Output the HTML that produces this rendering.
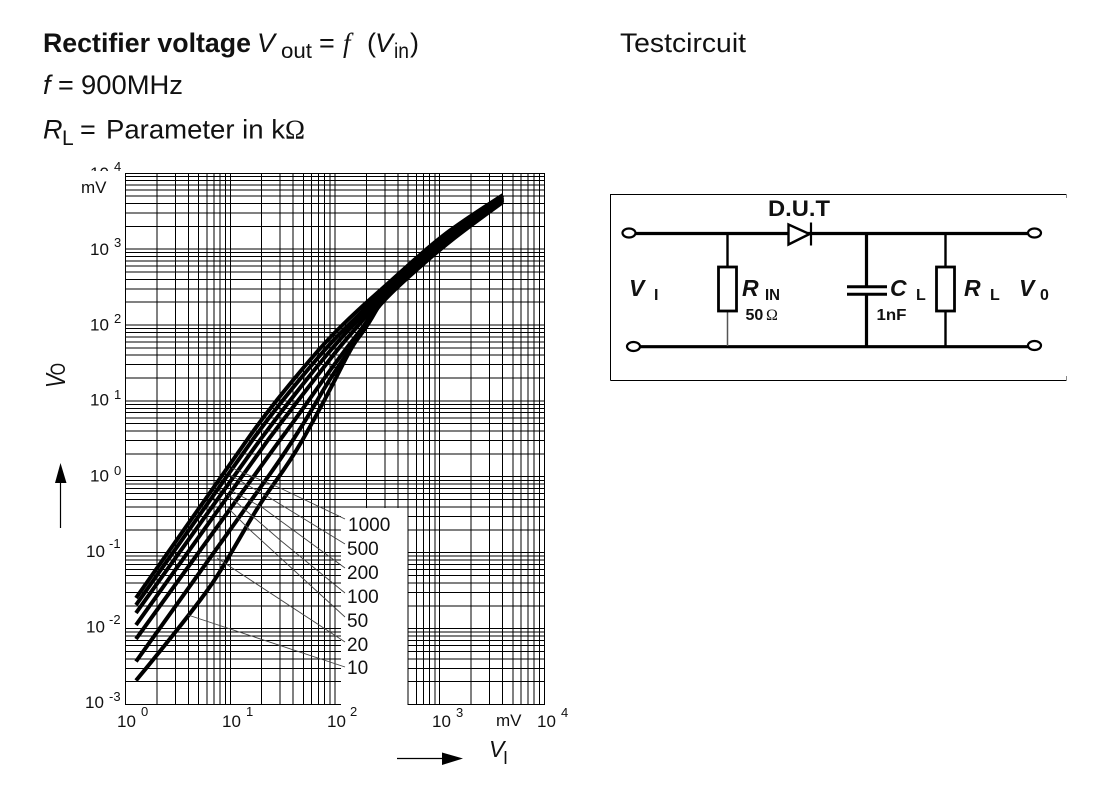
<!DOCTYPE html>
<html><head><meta charset="utf-8"><title>Rectifier voltage</title>
<style>html,body{margin:0;padding:0;background:#fff}svg{display:block}text{font-family:"Liberation Sans",sans-serif;fill:#111}.s{font-family:"Liberation Serif",serif}.i{font-style:italic}.b{font-weight:bold}</style></head>
<body>
<svg width="1094" height="786" viewBox="0 0 1094 786" xmlns="http://www.w3.org/2000/svg">
<rect width="1094" height="786" fill="#fff"/>
<!-- header -->
<text x="43" y="52" font-size="26.500" class="b" textLength="208" lengthAdjust="spacingAndGlyphs">Rectifier voltage</text>
<text x="257" y="52" font-size="27" class="i">V</text>
<text x="281" y="58" font-size="21" textLength="31" lengthAdjust="spacingAndGlyphs">out</text>
<text x="319" y="52" font-size="27">=</text>
<text x="343" y="52" font-size="27" class="s i">f</text>
<text x="367" y="52" font-size="27">(</text>
<text x="375" y="52" font-size="27" class="i">V</text>
<text x="394" y="58" font-size="21" textLength="15" lengthAdjust="spacingAndGlyphs">in</text>
<text x="410" y="52" font-size="27">)</text>
<text x="43" y="94" font-size="27" class="i">f</text>
<text x="58" y="94" font-size="27">=</text>
<text x="81" y="94" font-size="27" textLength="102" lengthAdjust="spacingAndGlyphs">900MHz</text>
<text x="43" y="138.500" font-size="27" class="i">R</text>
<text x="62" y="145" font-size="21">L</text>
<text x="80" y="138.500" font-size="27">=</text>
<text x="106" y="138.500" font-size="27" textLength="179" lengthAdjust="spacingAndGlyphs">Parameter in k</text>
<text x="285" y="138.500" font-size="27" class="s" textLength="20" lengthAdjust="spacingAndGlyphs">Ω</text>
<text x="620" y="52" font-size="27" textLength="126" lengthAdjust="spacingAndGlyphs">Testcircuit</text>

<!-- grid -->
<path shape-rendering="crispEdges" fill="none" stroke="#000" stroke-width="1" d="
M125.500 173V705M157 173V705M175.500 173V705M188.500 173V705M198.500 173V705M207 173V705M214 173V705M220 173V705M225.500 173V705M230.500 173V705
M261.500 173V705M280 173V705M293 173V705M303.500 173V705M311.500 173V705M318.500 173V705M324.500 173V705M330 173V705M335 173V705
M366.500 173V705M385 173V705M398 173V705M408 173V705M416.500 173V705M423.500 173V705M429.500 173V705M435 173V705M439.500 173V705
M471 173V705M489.500 173V705M502.500 173V705M513 173V705M521 173V705M528 173V705M534 173V705M539.500 173V705M544.500 173V705
M125 704.500H545M125 681.500H545M125 668.500H545M125 659H545M125 651.500H545M125 645.500H545M125 640.500H545M125 636H545M125 632H545M125 628.500H545
M125 606H545M125 592.500H545M125 583H545M125 575.500H545M125 569.500H545M125 564.500H545M125 560H545M125 556H545M125 552.500H545
M125 530H545M125 516.500H545M125 507H545M125 499.500H545M125 493.500H545M125 488.500H545M125 484H545M125 480.500H545M125 476.500H545
M125 454H545M125 440.500H545M125 431H545M125 423.500H545M125 418H545M125 412.500H545M125 408.500H545M125 404.500H545M125 401H545
M125 378H545M125 364.500H545M125 355H545M125 348H545M125 342H545M125 337H545M125 332.500H545M125 328.500H545M125 325H545
M125 302H545M125 289H545M125 279.500H545M125 272H545M125 266H545M125 261H545M125 256.500H545M125 252.500H545M125 249H545
M125 226.500H545M125 213H545M125 203.500H545M125 196H545M125 190H545M125 185H545M125 180.500H545M125 176.500H545M125 173.500H545"/>
<rect x="341" y="508" width="66.500" height="199" fill="#fff" shape-rendering="crispEdges"/>

<!-- axis labels -->
<g font-size="17">
<text x="90" y="179">10</text>
<rect x="75" y="171" width="49" height="8" fill="#fff"/>
<text x="114" y="171" font-size="13">4</text>
<text x="81" y="193">mV</text>
<text x="90" y="255">10</text><text x="114" y="247" font-size="13">3</text>
<text x="90" y="330.500">10</text><text x="114" y="323" font-size="13">2</text>
<text x="90" y="405.500">10</text><text x="114" y="399" font-size="13">1</text>
<text x="90" y="481.500">10</text><text x="114" y="475" font-size="13">0</text>
<text x="86" y="557">10</text><text x="109" y="548" font-size="13">-1</text>
<text x="86" y="632.500">10</text><text x="109" y="624" font-size="13">-2</text>
<text x="85" y="708">10</text><text x="109" y="701" font-size="13">-3</text>
<text x="117" y="727">10</text><text x="141" y="716" font-size="13">0</text>
<text x="222" y="727">10</text><text x="246" y="716" font-size="13">1</text>
<text x="327" y="727">10</text><text x="350" y="716" font-size="13">2</text>
<text x="432" y="727">10</text><text x="456" y="717" font-size="13">3</text>
<text x="496" y="726">mV</text>
<text x="537" y="727">10</text><text x="561" y="717" font-size="13">4</text>
</g>

<!-- curves -->
<g fill="none" stroke="#000" stroke-width="4" stroke-linejoin="round">
<path d="M136 598 L247 440 Q261 420 277 400 Q293 380 310 360 Q327 340 342.500 325 Q358 310 370.500 299 Q383 288 408 265.500 Q433 243 450 230.500 Q467 218 503 195"/>
<path d="M136 605 L252.500 440 Q267 420 283 400 Q299 380 316 360 Q333 340 347.500 326 Q362 312 372.500 301 Q383 290 408 267.500 Q433 245 450 232.500 Q467 220 503 196.500"/>
<path d="M136 613 L260 440 Q275 420 290.500 400 Q306 380 322.500 360 Q339 340 351.500 327 Q364 314 373.500 303 Q383 292 408 269.500 Q433 247 450 234 Q467 221.500 503 197.500"/>
<path d="M136 625 L268 440 Q283 420 298.500 400 Q314 380 327.500 362.500 Q341 345 353 331.500 Q365 318 374 306 Q383 294 408 271.500 Q433 249 450 236 Q467 223 503 198.500"/>
<path d="M136 639 L280 440 Q295 420 309 400 Q323 380 334 365 Q345 350 356 336 Q367 322 375 309 Q383 296 408 273.500 Q433 251 450 237.700 Q467 224.500 503 199.500"/>
<path d="M136 661.500 L270 474 Q280 460 293 440 Q306 420 317.500 400 Q329 380 341 362.500 Q353 345 360.500 335 Q368 325 375.500 311.500 Q383 298 408 275.500 Q433 253 450 239.500 Q467 226 503 200.500"/>
<path d="M136 680.500 L146.500 667.800 Q157 655 173 635 Q189 615 201 599 Q213 583 221.500 569 Q230 555 245 529 Q260 503 275.500 481.500 Q291 460 302.500 440 Q314 420 324.500 400 Q335 380 342.500 365 Q350 350 358.500 336.500 Q367 323 375 311.500 Q383 300 408 277.500 Q433 255 450 241.500 Q467 228 503 202"/>
</g>

<!-- leaders -->
<g fill="none" stroke="#444" stroke-width="0.900">
<polyline points="232,468 280,488 345,519"/>
<polyline points="230,475 270,498 345,544"/>
<polyline points="230,490 263,508 345,568"/>
<polyline points="228,495 280,540 345,593"/>
<polyline points="228,508 250,530 345,617"/>
<polyline points="217,558 345,642"/>
<polyline points="188,615 345,667"/>
</g>
<g font-size="19">
<text x="348" y="531">1000</text>
<text x="347" y="555">500</text>
<text x="347" y="579">200</text>
<text x="347" y="603">100</text>
<text x="347" y="627">50</text>
<text x="347" y="651">20</text>
<text x="347" y="674">10</text>
</g>

<!-- axis arrows/labels -->
<path d="M60.500 528V482" stroke="#000" stroke-width="1.200" fill="none"/>
<polygon points="60.500,463 55,483 66.500,483" fill="#000"/>
<path d="M397 758.500H444" stroke="#000" stroke-width="1.200" fill="none"/>
<polygon points="463,758.500 442,752.500 442,765" fill="#000"/>
<text x="489" y="757" font-size="23" class="i">V</text>
<text x="503" y="764" font-size="18">I</text>
<g transform="translate(65,388) rotate(-90) scale(0.75,1)">
<text x="0" y="0" font-size="28" class="i">V</text>
<text x="17" y="0" font-size="21">O</text>
</g>

<!-- circuit -->
<path d="M610.500 194.500H1066M610.500 194V380.500M610.500 380.500H1066" stroke="#000" stroke-width="1" fill="none" shape-rendering="crispEdges"/>
<path d="M1066.500 194V198M1066.500 376V381" stroke="#888" stroke-width="1" fill="none" shape-rendering="crispEdges"/>
<g fill="none" stroke="#000">
<path d="M635 233.500H1028M639 346.700H1028" stroke-width="3.200"/>
<ellipse cx="629" cy="233" rx="6.500" ry="4.500" stroke-width="2.200" fill="#fff"/>
<ellipse cx="1034.500" cy="233" rx="6.500" ry="4.500" stroke-width="2.200" fill="#fff"/>
<ellipse cx="633.500" cy="346.500" rx="6.500" ry="4.500" stroke-width="2.200" fill="#fff"/>
<ellipse cx="1034.500" cy="345.500" rx="6.500" ry="4.500" stroke-width="2.200" fill="#fff"/>
<path d="M727.500 233V267" stroke-width="2.400"/>
<path d="M727.500 311V346" stroke-width="1.500" stroke="#555"/>
<rect x="718.500" y="267" width="18" height="44" stroke-width="2.800" fill="#fff"/>
<path d="M945.500 233V346" stroke-width="2.400"/>
<rect x="936.500" y="267" width="18" height="44" stroke-width="2.800" fill="#fff"/>
<path d="M866.500 233V286M866.500 295V346" stroke-width="3.200"/>
<path d="M847 286.700H887M847 294.300H887" stroke-width="3"/>
<polygon points="788.500,224.500 788.500,244.500 809.500,234" stroke-width="2.400" fill="#fff"/>
<path d="M811 222.500V245.500" stroke-width="2.200"/>
</g>
<text x="768" y="216" font-size="22" class="b" textLength="62" lengthAdjust="spacingAndGlyphs">D.U.T</text>
<text x="629" y="296" font-size="23" class="b i">V</text>
<text x="654" y="300" font-size="16" class="b">I</text>
<text x="742" y="296" font-size="23" class="b i">R</text>
<text x="765" y="300" font-size="16" class="b" textLength="15" lengthAdjust="spacingAndGlyphs">IN</text>
<text x="745.500" y="320" font-size="16" class="b">50</text>
<text x="766" y="320" font-size="16" class="s">Ω</text>
<text x="890" y="296" font-size="23" class="b i">C</text>
<text x="916" y="300" font-size="16" class="b">L</text>
<text x="876.500" y="320" font-size="16" class="b" textLength="30" lengthAdjust="spacingAndGlyphs">1nF</text>
<text x="964" y="296" font-size="23" class="b i">R</text>
<text x="990" y="300" font-size="16" class="b">L</text>
<text x="1019" y="296" font-size="23" class="b i">V</text>
<text x="1040" y="300" font-size="16" class="b">0</text>
</svg>
</body></html>
